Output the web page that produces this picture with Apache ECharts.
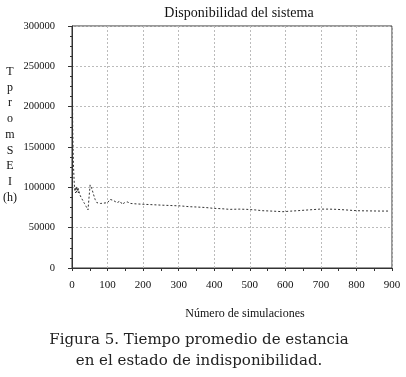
<!DOCTYPE html>
<html><head><meta charset="utf-8">
<script src="https://cdn.jsdelivr.net/npm/echarts@6/dist/echarts.min.js"></script>
<style>html,body{margin:0;padding:0;background:#fff}#c{width:406px;height:377px}</style>
</head><body><div id="c"></div>
<script>
var chartTitle = 'Disponibilidad del sistema';
var xAxisName = 'Número de simulaciones';
var yAxisLetters = ['T','p','r','o','m','S','E','I','(h)'];
var captionLines = ['Figura 5. Tiempo promedio de estancia','en el estado de indisponibilidad.'];
var simulaciones = [1,2,3,4,5,6,7,8,9,10,11,12,13,14,15,16,17,18,19,20,22,25,30,35,40,45,48,51,53,56,60,65,70,75,80,90,100,107,115,127,135,141,148,155,165,180,200,225,248,275,304,330,351,375,397,420,444,470,492,515,537,565,593,615,633,665,697,720,745,770,801,830,866,889];
var tiempoPromedio = [237000,175000,150000,128000,118000,108000,100000,96000,99000,93000,97000,101000,94000,92000,98000,95000,100000,93000,96000,97000,91000,88000,84000,80000,76000,72000,88000,103000,105000,98000,92000,85000,81000,79000,80000,80500,81000,85000,84000,81000,83000,79000,81000,82000,80000,79500,79000,78500,78000,77500,77000,76000,75600,75000,74000,73500,72700,73000,72700,72000,71000,70500,69800,70500,71000,72000,73000,73000,72700,72000,71000,70800,70600,70600];

var pts = simulaciones.map(function(x,i){return [x, tiempoPromedio[i]];});
var chart = echarts.init(document.getElementById('c'));
var serif = 'Liberation Serif';
chart.setOption({
  animation:false,
  backgroundColor:'#fff',
  title:{text:chartTitle,left:234,top:1,textAlign:'center',textStyle:{fontFamily:serif,fontSize:14,fontWeight:'normal',color:'#111'}},
  grid:{left:72,right:14,top:26,bottom:109,show:true,borderColor:'#333',borderWidth:1,backgroundColor:'transparent'},
  xAxis:{type:'value',min:0,max:900,interval:100,
    name:xAxisName,nameLocation:'middle',nameGap:40,
    nameTextStyle:{fontFamily:serif,fontSize:12,color:'#111',padding:[0,0,0,26]},
    axisLine:{show:true,lineStyle:{color:'#333'}},
    axisTick:{show:true,length:3,lineStyle:{color:'#333'}},
    minorTick:{show:true,splitNumber:2,length:3,lineStyle:{color:'#333'}},
    axisLabel:{margin:12,fontFamily:serif,fontSize:11,color:'#111'},
    splitLine:{show:true,lineStyle:{color:'#bbb',type:[2,2]}}},
  yAxis:{type:'value',min:0,max:300000,interval:50000,
    axisLine:{show:true,lineStyle:{color:'#333'}},
    axisTick:{show:true,length:4,lineStyle:{color:'#333'}},
    minorTick:{show:true,splitNumber:4,length:2,lineStyle:{color:'#333'}},
    axisLabel:{margin:17,fontFamily:serif,fontSize:10.5,color:'#111',formatter:function(v){return String(v);}},
    splitLine:{show:true,lineStyle:{color:'#bbb',type:[2,2]}}},
  graphic:[
    {type:'text',x:10,y:64,style:{text:yAxisLetters.join('\n'),textAlign:'center',lineHeight:15.7,font:'12px '+serif,fill:'#111'}},
    {type:'text',x:199,y:333,style:{text:captionLines[0],textAlign:'center',font:'15px "DejaVu Serif"',fill:'#222'}},
    {type:'text',x:199,y:354,style:{text:captionLines[1],textAlign:'center',font:'15px "DejaVu Serif"',fill:'#222'}}
  ],
  series:[{type:'line',data:pts,showSymbol:false,symbol:'none',
    lineStyle:{color:'#333',width:1,type:[2,2]}}]
});
</script></body></html>
